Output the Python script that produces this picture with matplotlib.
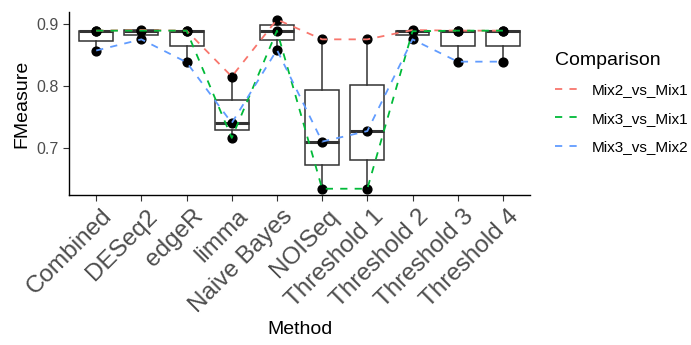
import numpy as np
import matplotlib.pyplot as plt
import matplotlib.transforms as mtransforms
from matplotlib.lines import Line2D

plt.rcParams['font.family'] = ['Liberation Sans', 'DejaVu Sans']

methods = ['Combined', 'DESeq2', 'edgeR', 'limma', 'Naive Bayes', 'NOISeq',
           'Threshold 1', 'Threshold 2', 'Threshold 3', 'Threshold 4']
mix2_vs_mix1 = [0.889, 0.890, 0.889, 0.815, 0.907, 0.875, 0.875, 0.890, 0.889, 0.889]
mix3_vs_mix1 = [0.889, 0.889, 0.889, 0.716, 0.889, 0.634, 0.634, 0.888, 0.889, 0.889]
mix3_vs_mix2 = [0.857, 0.875, 0.838, 0.740, 0.858, 0.710, 0.727, 0.875, 0.839, 0.839]

comparisons = ['Mix2_vs_Mix1', 'Mix3_vs_Mix1', 'Mix3_vs_Mix2']
series = [mix2_vs_mix1, mix3_vs_mix1, mix3_vs_mix2]
colors = ['#F8766D', '#00BA38', '#619CFF']

fig = plt.figure(figsize=(6.91, 3.45), dpi=100)
ax = fig.add_axes([0.100, 0.435, 0.667, 0.530])

x = np.arange(1, len(methods) + 1)
data = np.array(series)

# boxes first, then the points, dashed lines on top
ax.boxplot([data[:, i] for i in range(len(methods))], positions=x, widths=0.75,
           whis=1.5, showfliers=False, patch_artist=True,
           boxprops=dict(facecolor='white', edgecolor='#333333', linewidth=1.1),
           whiskerprops=dict(color='#333333', linewidth=1.1),
           capprops=dict(linewidth=0),
           medianprops=dict(color='#333333', linewidth=2.2))

for s in series:
    ax.scatter(x, s, color='black', s=40, zorder=3)

handles = []
for s, c, name in zip(series, colors, comparisons):
    ax.plot(x, s, color=c, linestyle=(0, (4, 4)), linewidth=1.3, zorder=4)
    handles.append(Line2D([], [], color=c, linestyle=(0, (4, 4)), linewidth=1.3, label=name))

ax.set_xlim(0.4, 10.6)
ax.set_ylim(0.624, 0.919)
ax.set_yticks([0.7, 0.8, 0.9])
ax.set_yticklabels(['0.7', '0.8', '0.9'])
ax.set_xticks(x)
ax.set_xticklabels(methods, rotation=45, ha='right', va='top', rotation_mode='anchor')

ax.tick_params(axis='x', labelsize=17.5, colors='#333333', labelcolor='#4D4D4D', length=4)
ax.tick_params(axis='y', labelsize=11.5, colors='#333333', labelcolor='#4D4D4D', length=4)

shift = mtransforms.ScaledTranslation(5 / 100, 0, fig.dpi_scale_trans)
for lab in ax.get_xticklabels():
    lab.set_transform(lab.get_transform() + shift)

for side in ['top', 'right']:
    ax.spines[side].set_visible(False)
for side in ['left', 'bottom']:
    ax.spines[side].set_linewidth(1.0)

ax.set_xlabel('Method', fontsize=14, labelpad=3)
ax.set_ylabel('FMeasure', fontsize=14)

leg = fig.legend(handles=handles, title='Comparison', loc='upper left',
                 bbox_to_anchor=(0.784, 0.89), frameon=False, fontsize=11,
                 title_fontsize=14, handlelength=1.6, labelspacing=0.95,
                 handletextpad=0.75)
leg._legend_box.align = 'left'

fig.savefig('out.png', dpi=100)
